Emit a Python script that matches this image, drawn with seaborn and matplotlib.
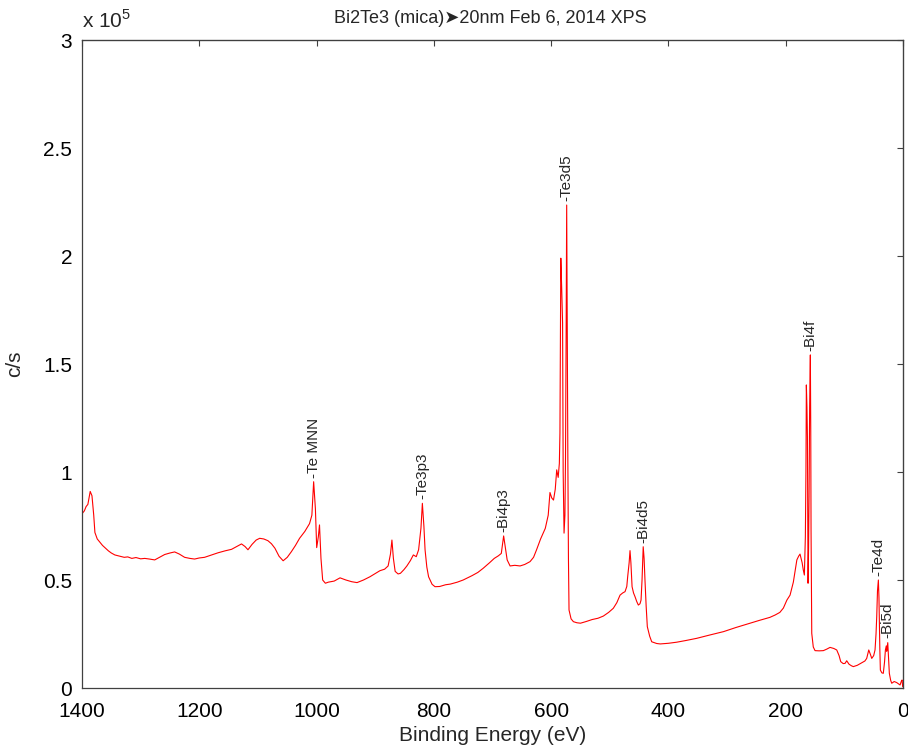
import matplotlib
matplotlib.use("Agg")
import matplotlib.pyplot as plt
import seaborn as sns
import pandas as pd

# Survey spectrum: binding energy (eV) and intensity (units of 1e5 counts/s)
binding_energy = [
    1399, 1396, 1393, 1390, 1386, 1383, 1380, 1378, 1374, 1370, 1365, 1361, 1355, 1350,
    1344, 1335, 1328, 1322, 1315, 1308, 1300, 1293, 1285, 1276, 1268, 1259, 1250, 1242,
    1234, 1225, 1216, 1208, 1200, 1191, 1180, 1168, 1156, 1145, 1136, 1128, 1122, 1117,
    1110, 1103, 1097, 1090, 1083, 1077, 1071, 1064, 1057, 1050, 1043, 1036, 1029, 1020,
    1012, 1008, 1005, 1002, 999.8, 997, 995, 992.5, 989.6, 985, 980, 970, 960, 950, 940,
    931, 920, 909, 900, 892, 884, 878, 874, 871.5, 869, 866, 861, 857, 851, 846, 840, 835,
    830, 826, 822, 819.6, 817, 815, 812, 809, 803, 798, 790, 780, 772, 760, 750, 744, 735,
    725, 716, 705, 697, 690, 685, 681, 678, 675, 670, 662, 653, 645, 636, 630, 625, 618,
    610, 605, 602, 599, 596, 593, 590.5, 588, 586, 585, 584.5, 583.5, 582, 580.5, 579.5,
    578, 576.5, 575.5, 574.5, 573.5, 572.5, 571.5, 570.5, 569.5, 566, 562, 556, 550, 540,
    530, 520, 511, 502, 494, 488, 482.5, 478, 474, 471, 469.5, 467, 465.5, 464, 462, 459.5,
    457, 454, 451.3, 448.5, 446.7, 445, 443, 441.5, 440, 438, 436, 432, 428.5, 420, 414,
    400, 386, 370, 351.7, 330, 306, 285, 261, 245, 227, 218, 210, 204, 198, 192.6, 187,
    183, 181, 178, 175.6, 172, 170, 168.2, 166.5, 165.5, 164.8, 163.8, 163, 162.2, 161.9,
    161, 160.2, 159.2, 158, 157.3, 156.8, 155.6, 153, 150, 143, 135.8, 130, 124.4, 118,
    113, 109, 106.2, 102, 98.8, 96, 92, 88, 84.7, 78, 70.4, 65, 61.9, 58.4, 55.5, 53.3,
    50, 47.7, 46, 44.8, 43.5, 42, 41, 40.4, 39.5, 38.6, 36, 33.6, 31.5, 30, 28.5, 27.8,
    26, 25, 23.3, 21, 19.2, 15, 10.7, 7, 5, 3, 1.6, 0.5,
]
intensity_e5 = [
    0.81, 0.82, 0.84, 0.85, 0.91, 0.89, 0.80, 0.72, 0.69, 0.677, 0.66, 0.65, 0.635, 0.625,
    0.616, 0.61, 0.605, 0.607, 0.60, 0.604, 0.598, 0.60, 0.597, 0.593, 0.605, 0.618, 0.625, 0.63,
    0.62, 0.605, 0.60, 0.597, 0.602, 0.605, 0.615, 0.626, 0.635, 0.642, 0.655, 0.667, 0.655, 0.64,
    0.665, 0.685, 0.693, 0.69, 0.682, 0.668, 0.647, 0.61, 0.589, 0.605, 0.631, 0.66, 0.693, 0.725,
    0.761, 0.80, 0.955, 0.83, 0.65, 0.70, 0.755, 0.60, 0.50, 0.485, 0.49, 0.495, 0.51, 0.50, 0.492,
    0.488, 0.50, 0.515, 0.53, 0.543, 0.55, 0.565, 0.62, 0.685, 0.60, 0.54, 0.528, 0.531, 0.548, 0.565, 0.59, 0.616,
    0.608, 0.64, 0.74, 0.855, 0.75, 0.64, 0.56, 0.515, 0.48, 0.469, 0.47, 0.478, 0.481, 0.49, 0.50, 0.508, 0.52,
    0.535, 0.554, 0.58, 0.60, 0.612, 0.623, 0.704, 0.65, 0.593, 0.565, 0.568, 0.565, 0.572, 0.585, 0.605, 0.639, 0.69,
    0.739, 0.80, 0.905, 0.88, 0.87, 0.92, 1.01, 0.975, 1.04, 1.18, 1.45, 1.99, 1.85, 1.69, 1.0,
    0.717, 0.8, 1.07, 1.6, 2.236, 1.6, 1.056, 0.6, 0.361, 0.32, 0.307, 0.302, 0.30, 0.308,
    0.317, 0.323, 0.333, 0.35, 0.369, 0.395, 0.43, 0.44, 0.446, 0.47, 0.515, 0.58, 0.636, 0.58, 0.469, 0.44,
    0.423, 0.40, 0.384, 0.39, 0.407, 0.50, 0.654, 0.6, 0.50, 0.38, 0.284, 0.24, 0.214, 0.206, 0.204,
    0.207, 0.212, 0.22, 0.23, 0.245, 0.261, 0.28, 0.30, 0.313, 0.327, 0.338, 0.35, 0.37, 0.407, 0.43, 0.49,
    0.56, 0.593, 0.61, 0.62, 0.58, 0.546, 0.523, 0.70, 1.0, 1.403, 1.30, 1.163, 0.70, 0.485,
    0.65, 0.886, 1.3, 1.542, 1.2, 0.731, 0.253, 0.19, 0.173, 0.172, 0.173, 0.18, 0.188, 0.183,
    0.176, 0.15, 0.122, 0.113, 0.114, 0.126, 0.11, 0.103, 0.099, 0.105, 0.117, 0.125, 0.137, 0.176, 0.155, 0.137,
    0.15, 0.176, 0.25, 0.33, 0.45, 0.50, 0.42, 0.315, 0.18, 0.083, 0.07, 0.068, 0.12, 0.176, 0.195, 0.17,
    0.21, 0.16, 0.068, 0.035, 0.022, 0.03, 0.025, 0.018, 0.014, 0.03, 0.037, 0.006,
]

# Peak assignments: label, energy, peak height
peak_labels = ["-Te MNN", "-Te3p3", "-Bi4p3", "-Te3d5", "-Bi4d5", "-Bi4f", "-Te4d", "-Bi5d"]
peak_energy = [1005, 819.6, 681, 573.5, 443, 158, 42, 26]
peak_height = [0.955, 0.855, 0.704, 2.236, 0.654, 1.542, 0.50, 0.21]

x_ticks = [1400, 1200, 1000, 800, 600, 400, 200, 0]
y_ticks = [0, 0.5, 1, 1.5, 2, 2.5, 3]

sns.set_style("white")
plt.rcParams["font.family"] = ["Liberation Sans", "DejaVu Sans"]
plt.rcParams["mathtext.fontset"] = "custom"
plt.rcParams["mathtext.rm"] = "Liberation Sans"

df = pd.DataFrame({"Binding Energy (eV)": binding_energy, "c/s": intensity_e5})

fig = plt.figure(figsize=(9.08, 7.54), dpi=100)
ax = fig.add_axes([82 / 908, 1 - 688 / 754, (903 - 82) / 908, (688 - 40) / 754])

sns.lineplot(data=df, x="Binding Energy (eV)", y="c/s", sort=False, estimator=None,
             color="#ff0000", linewidth=0.8, ax=ax)

ax.set_xlim(1400, 0)
ax.set_ylim(0, 3)
ax.set_xticks(x_ticks)
ax.set_yticks(y_ticks)
ax.set_yticklabels([f"{v:g}" for v in y_ticks])
ax.tick_params(axis="both", direction="out", length=4, width=0.8, labelsize=15,
               colors="#404040", labelcolor="black")
ax.tick_params(axis="x", pad=6)
ax.tick_params(axis="y", pad=3)
for s in ax.spines.values():
    s.set_color("#404040")
    s.set_linewidth(0.9)

top = ax.secondary_xaxis("top")
top.set_xticks(x_ticks)
top.tick_params(direction="in", length=4, labeltop=False, colors="#404040")
right = ax.secondary_yaxis("right")
right.set_yticks(y_ticks)
right.tick_params(direction="in", length=4, labelright=False, colors="#404040")

ax.set_xlabel("Binding Energy (eV)", fontsize=15, labelpad=4)
ax.set_ylabel("c/s", fontsize=15, labelpad=14)

for lab, e, h in zip(peak_labels, peak_energy, peak_height):
    ax.annotate(lab, xy=(e, h), xytext=(0, 3), textcoords="offset points",
                rotation=90, ha="center", va="bottom", fontsize=11)

fig.text(82 / 908, 1 - 28 / 754, r"x 10$^{5}$", fontsize=15, ha="left", va="baseline")
fig.text(490 / 908, 1 - 23 / 754, "Bi2Te3 (mica)\u27a420nm Feb 6, 2014 XPS",
         fontsize=13, ha="center", va="baseline")

fig.savefig("out.png", dpi=100)
